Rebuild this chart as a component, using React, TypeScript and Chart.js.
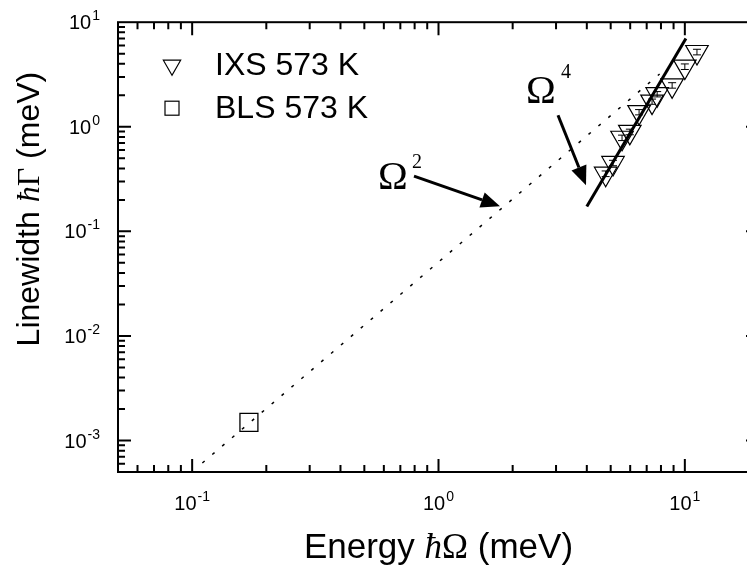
import React, { useEffect, useRef } from 'react';
import { Chart, registerables } from 'chart.js';

Chart.register(...registerables);

// ---- data ----
const ixsEnergy = [11.2, 10.0, 8.88, 7.72, 7.36, 6.52, 5.98, 5.56, 5.11, 4.77];
const ixsWidth = [5.19, 3.76, 2.49, 2.05, 1.74, 1.38, 0.894, 0.785, 0.451, 0.356];
const ixsError = [0.32, 0.23, 0.15, 0.12, 0.1, 0.08, 0.055, 0.047, 0.027, 0.022];
const blsEnergy = [0.17];
const blsWidth = [0.00149];
const omega2Energy = [0.11, 7.9];
const omega2Width = [0.00061, 3.2];
const omega4Energy = [4.0, 10.1];
const omega4Width = [0.173, 7.0];
const xTickValues = [0.1, 1, 10];
const xTickExponents = ['-1', '0', '1'];
const yTickValues = [10, 1, 0.1, 0.01, 0.001];
const yTickExponents = ['1', '0', '-1', '-2', '-3'];
const seriesLabels = ['IXS 573 K', 'BLS 573 K'];

const X_MIN = 0.05;
const X_MAX = 20;
const Y_MIN = 0.0005;
const Y_MAX = 10;

const SANS = '"Liberation Sans", Arial, sans-serif';
const SERIF = '"Liberation Serif", "Times New Roman", serif';

type Seg = [string, string];

function drawSegs(ctx: CanvasRenderingContext2D, segs: Seg[], x: number, y: number, align: 'left' | 'center' | 'right') {
  ctx.textAlign = 'left';
  ctx.textBaseline = 'alphabetic';
  const widths = segs.map(([t, f]) => {
    ctx.font = f;
    return ctx.measureText(t).width;
  });
  const total = widths.reduce((a, b) => a + b, 0);
  let cx = align === 'center' ? x - total / 2 : align === 'right' ? x - total : x;
  segs.forEach(([t, f], i) => {
    ctx.font = f;
    ctx.fillText(t, cx, y);
    cx += widths[i];
  });
}

function drawPower(ctx: CanvasRenderingContext2D, exp: string, x: number, y: number, align: 'center' | 'right') {
  ctx.textAlign = 'left';
  ctx.textBaseline = 'alphabetic';
  ctx.font = `20px ${SANS}`;
  const wBase = ctx.measureText('10').width;
  ctx.font = `14px ${SANS}`;
  const wExp = ctx.measureText(exp).width;
  const total = wBase + wExp + 1;
  const left = align === 'center' ? x - total / 2 : x - total;
  ctx.font = `20px ${SANS}`;
  ctx.fillText('10', left, y);
  ctx.font = `14px ${SANS}`;
  ctx.fillText(exp, left + wBase + 1, y - 9);
}

function drawArrow(ctx: CanvasRenderingContext2D, x1: number, y1: number, x2: number, y2: number) {
  const ang = Math.atan2(y2 - y1, x2 - x1);
  const headLen = 19;
  const headHalf = 8;
  const bx = x2 - Math.cos(ang) * headLen;
  const by = y2 - Math.sin(ang) * headLen;
  ctx.beginPath();
  ctx.lineWidth = 3;
  ctx.moveTo(x1, y1);
  ctx.lineTo(bx, by);
  ctx.stroke();
  ctx.beginPath();
  ctx.moveTo(x2, y2);
  ctx.lineTo(bx + Math.sin(ang) * headHalf, by - Math.cos(ang) * headHalf);
  ctx.lineTo(bx - Math.sin(ang) * headHalf, by + Math.cos(ang) * headHalf);
  ctx.closePath();
  ctx.fill();
}

const decorPlugin = {
  id: 'decor',
  afterDatasetsDraw(chart: any) {
    const ctx: CanvasRenderingContext2D = chart.ctx;
    const xs = chart.scales.x;
    const ys = chart.scales.y;
    ctx.save();
    ctx.strokeStyle = '#000';
    ctx.lineWidth = 1;
    ixsEnergy.forEach((e, i) => {
      const px = xs.getPixelForValue(e);
      const top = ys.getPixelForValue(ixsWidth[i] + ixsError[i]);
      const bot = ys.getPixelForValue(ixsWidth[i] - ixsError[i]);
      ctx.beginPath();
      ctx.moveTo(px, top);
      ctx.lineTo(px, bot);
      ctx.moveTo(px - 4, top);
      ctx.lineTo(px + 4, top);
      ctx.moveTo(px - 4, bot);
      ctx.lineTo(px + 4, bot);
      ctx.stroke();
    });
    ctx.restore();
  },
  afterDraw(chart: any) {
    const ctx: CanvasRenderingContext2D = chart.ctx;
    const a = chart.chartArea;
    const xs = chart.scales.x;
    const ys = chart.scales.y;
    ctx.save();
    ctx.strokeStyle = '#000';
    ctx.fillStyle = '#000';

    // frame
    ctx.lineWidth = 2;
    ctx.strokeRect(a.left, a.top, a.right - a.left, a.bottom - a.top);

    // ticks (inward, all four sides)
    ctx.lineWidth = 2;
    for (let d = -5; d <= 2; d++) {
      for (let m = 1; m <= 9; m++) {
        const v = m * Math.pow(10, d);
        const major = m === 1;
        const len = major ? 13 : 7;
        if (v > X_MIN * 1.0001 && v < X_MAX * 0.9999) {
          const px = xs.getPixelForValue(v);
          ctx.beginPath();
          ctx.moveTo(px, a.bottom);
          ctx.lineTo(px, a.bottom - len);
          ctx.moveTo(px, a.top);
          ctx.lineTo(px, a.top + len);
          ctx.stroke();
        }
        if (v > Y_MIN * 1.0001 && v < Y_MAX * 0.9999) {
          const py = ys.getPixelForValue(v);
          ctx.beginPath();
          ctx.moveTo(a.left, py);
          ctx.lineTo(a.left + len, py);
          ctx.moveTo(a.right, py);
          ctx.lineTo(a.right - len, py);
          ctx.stroke();
        }
      }
    }

    // tick labels
    xTickValues.forEach((v, i) => {
      drawPower(ctx, xTickExponents[i], xs.getPixelForValue(v), a.bottom + 38, 'center');
    });
    yTickValues.forEach((v, i) => {
      drawPower(ctx, yTickExponents[i], a.left - 18, ys.getPixelForValue(v) + 7, 'right');
    });

    // axis titles
    drawSegs(
      ctx,
      [
        ['Energy ', `35px ${SANS}`],
        ['ħ', `italic 35px ${SERIF}`],
        ['Ω', `35px ${SERIF}`],
        [' (meV)', `35px ${SANS}`],
      ],
      (a.left + a.right) / 2,
      a.bottom + 86,
      'center'
    );
    ctx.save();
    ctx.translate(31, (a.top + a.bottom) / 2 - 38);
    ctx.rotate(-Math.PI / 2);
    drawSegs(
      ctx,
      [
        ['Linewidth ', `32px ${SANS}`],
        ['ħ', `italic 32px ${SERIF}`],
        ['Γ', `32px ${SERIF}`],
        [' (meV)', `32px ${SANS}`],
      ],
      0,
      0,
      'center'
    );
    ctx.restore();

    // legend
    const lx = a.left + 54;
    ctx.lineWidth = 1.2;
    const ty = a.top + 43;
    const r = 10;
    ctx.beginPath();
    ctx.moveTo(lx, ty + r);
    ctx.lineTo(lx - r * 0.866, ty - r / 2);
    ctx.lineTo(lx + r * 0.866, ty - r / 2);
    ctx.closePath();
    ctx.stroke();
    const sy = a.top + 86;
    ctx.strokeRect(lx - 7, sy - 7, 14, 14);
    ctx.font = `32px ${SANS}`;
    ctx.textAlign = 'left';
    ctx.textBaseline = 'alphabetic';
    ctx.fillText(seriesLabels[0], a.left + 97, a.top + 53);
    ctx.fillText(seriesLabels[1], a.left + 97, a.top + 96);

    // annotations
    drawSegs(ctx, [['Ω', `40px ${SERIF}`]], a.left + 260, a.top + 167, 'left');
    drawSegs(ctx, [['2', `20px ${SERIF}`]], a.left + 294, a.top + 146, 'left');
    drawArrow(ctx, a.left + 296, a.top + 154, a.left + 382, a.top + 184);

    drawSegs(ctx, [['Ω', `40px ${SERIF}`]], a.left + 408, a.top + 81, 'left');
    drawSegs(ctx, [['4', `20px ${SERIF}`]], a.left + 443, a.top + 56, 'left');
    drawArrow(ctx, a.left + 440, a.top + 93, a.left + 468, a.top + 163);

    ctx.restore();
  },
};

export default function App() {
  const ref = useRef<HTMLCanvasElement | null>(null);

  useEffect(() => {
    if (!ref.current) return;
    const chart = new Chart(ref.current, {
      type: 'scatter',
      data: {
        datasets: [
          {
            label: 'Ω2',
            data: omega2Energy.map((x, i) => ({ x, y: omega2Width[i] })),
            showLine: true,
            borderColor: '#000',
            borderWidth: 1.5,
            borderDash: [3, 10],
            pointRadius: 0,
          },
          {
            label: 'Ω4',
            data: omega4Energy.map((x, i) => ({ x, y: omega4Width[i] })),
            showLine: true,
            borderColor: '#000',
            borderWidth: 3,
            pointRadius: 0,
          },
          {
            label: seriesLabels[0],
            data: ixsEnergy.map((x, i) => ({ x, y: ixsWidth[i] })),
            pointStyle: 'triangle',
            pointRotation: 180,
            pointRadius: 13,
            borderColor: '#000',
            borderWidth: 1.2,
            backgroundColor: 'rgba(0,0,0,0)',
          },
          {
            label: seriesLabels[1],
            data: blsEnergy.map((x, i) => ({ x, y: blsWidth[i] })),
            pointStyle: 'rect',
            pointRadius: 12.7,
            borderColor: '#000',
            borderWidth: 1.3,
            backgroundColor: 'rgba(0,0,0,0)',
          },
        ],
      },
      options: {
        responsive: false,
        animation: false,
        devicePixelRatio: 1,
        layout: { padding: { left: 110, top: 6, right: 19, bottom: 97 } },
        plugins: { legend: { display: false }, tooltip: { enabled: false } },
        scales: {
          x: { type: 'logarithmic', min: X_MIN, max: X_MAX, display: false },
          y: { type: 'logarithmic', min: Y_MIN, max: Y_MAX, display: false },
        },
      },
      plugins: [decorPlugin],
    } as any);
    return () => chart.destroy();
  }, []);

  return (
    <div style={{ width: 747, height: 561, overflow: 'hidden', position: 'relative', background: '#fff' }}>
      <canvas ref={ref} width={770} height={561} style={{ display: 'block', width: 770, height: 561 }} />
    </div>
  );
}
